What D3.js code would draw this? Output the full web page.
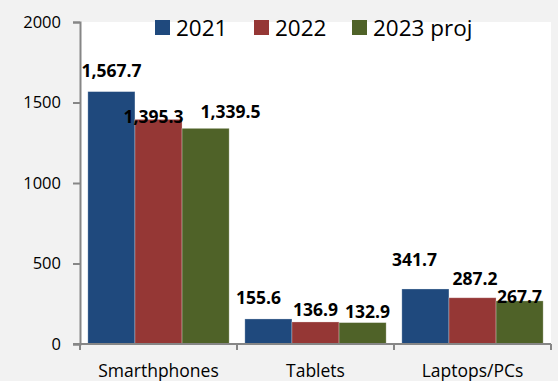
<!DOCTYPE html>
<html>
<head>
<meta charset="utf-8">
<script src="https://cdn.jsdelivr.net/npm/d3@7"></script>
<style>
  html, body { margin: 0; padding: 0; background: #f2f2f2; }
  svg { display: block; }
</style>
</head>
<body>
<svg id="chart" width="558" height="381"></svg>
<script>
// Unit shipments (millions) by device type
const categories = ["Smarthphones", "Tablets", "Laptops/PCs"];
const seriesNames = ["2021", "2022", "2023 proj"];
const values2021 = [1567.7, 155.6, 341.7];
const values2022 = [1395.3, 136.9, 287.2];
const values2023 = [1339.5, 132.9, 267.7];
const yTicks = [0, 500, 1000, 1500, 2000];
const colors = ["#1f497d", "#953735", "#4f6228"];

// Hand-placed label nudges [dx, dy] relative to bar centre / bar top
const labelNudge = [
  [[0, -14.5], [-5, 3.5], [25, -10]],
  [[-10, -15], [0, -6], [5, -5]],
  [[-11, -23], [2.5, -13], [0, 2]]
];

const seriesValues = [values2021, values2022, values2023];
const data = categories.map((c, i) => ({
  category: c,
  bars: seriesNames.map((s, j) => ({ series: j, value: seriesValues[j][i], ci: i }))
}));

const svg = d3.select("#chart");
const plotLeft = 80, plotRight = 551, plotTop = 22, plotBottom = 344;

// Plot area
svg.append("rect")
  .attr("x", plotLeft).attr("y", plotTop)
  .attr("width", plotRight - plotLeft).attr("height", plotBottom - plotTop)
  .attr("fill", "#ffffff");

const x0 = d3.scaleBand().domain(categories).range([plotLeft, plotRight]).padding(0);
const x1 = d3.scaleBand().domain(d3.range(seriesNames.length))
  .range([x0.bandwidth() * 0.05, x0.bandwidth() * 0.95]).padding(0);
const y = d3.scaleLinear().domain([0, 2000]).range([plotBottom, plotTop]);

// Bars
const groups = svg.append("g").selectAll("g").data(data).join("g")
  .attr("transform", d => `translate(${x0(d.category)},0)`);

groups.selectAll("rect").data(d => d.bars).join("rect")
  .attr("x", d => x1(d.series))
  .attr("y", d => y(d.value))
  .attr("width", x1.bandwidth())
  .attr("height", d => y(0) - y(d.value))
  .attr("fill", d => colors[d.series])
  .attr("stroke", "rgba(255,255,255,0.35)")
  .attr("stroke-width", 0.8);

// Y axis
const yAxis = svg.append("g")
  .attr("transform", `translate(${plotLeft},0)`)
  .call(d3.axisLeft(y).tickValues(yTicks).tickSize(7).tickPadding(12).tickFormat(d3.format("d")));
yAxis.select(".domain").attr("stroke", "#868686").attr("stroke-width", 2);
yAxis.selectAll(".tick line").attr("stroke", "#868686").attr("stroke-width", 2);
yAxis.selectAll("text")
  .attr("font-family", "'Open Sans', sans-serif")
  .attr("font-size", 16.5)
  .attr("fill", "#000");

// X axis with tick marks at category boundaries
const xAxisG = svg.append("g").attr("transform", `translate(0,${plotBottom})`);
xAxisG.append("line")
  .attr("x1", plotLeft - 7).attr("x2", plotRight)
  .attr("stroke", "#868686").attr("stroke-width", 2);
const bounds = categories.map(c => x0(c)).concat([x0(categories[categories.length - 1]) + x0.bandwidth()]);
xAxisG.selectAll("line.tk").data(bounds).join("line")
  .attr("class", "tk")
  .attr("x1", d => d).attr("x2", d => d)
  .attr("y1", 0).attr("y2", 6)
  .attr("stroke", "#868686").attr("stroke-width", 2);
xAxisG.selectAll("text").data(categories).join("text")
  .attr("x", d => x0(d) + x0.bandwidth() / 2)
  .attr("y", 33)
  .attr("text-anchor", "middle")
  .attr("font-family", "'Open Sans', sans-serif")
  .attr("font-size", 17.5)
  .attr("fill", "#000")
  .text(d => d);

// Value labels
groups.selectAll("text").data(d => d.bars).join("text")
  .attr("x", d => x1(d.series) + x1.bandwidth() / 2 + labelNudge[d.ci][d.series][0])
  .attr("y", d => y(d.value) + labelNudge[d.ci][d.series][1])
  .attr("text-anchor", "middle")
  .attr("font-family", "'Open Sans', sans-serif")
  .attr("font-weight", "bold")
  .attr("font-size", 17.5)
  .attr("fill", "#000")
  .text(d => d3.format(",.1f")(d.value));

// Legend
const legendX = [155, 254, 352];
const legend = svg.append("g").selectAll("g").data(seriesNames).join("g")
  .attr("transform", (d, i) => `translate(${legendX[i]},20)`);
legend.append("rect")
  .attr("width", 15).attr("height", 15)
  .attr("fill", (d, i) => colors[i]);
legend.append("text")
  .attr("x", 21).attr("y", 15.5)
  .attr("font-family", "'Open Sans', sans-serif")
  .attr("font-size", 22.5)
  .attr("fill", "#000")
  .text(d => d);
</script>
</body>
</html>
